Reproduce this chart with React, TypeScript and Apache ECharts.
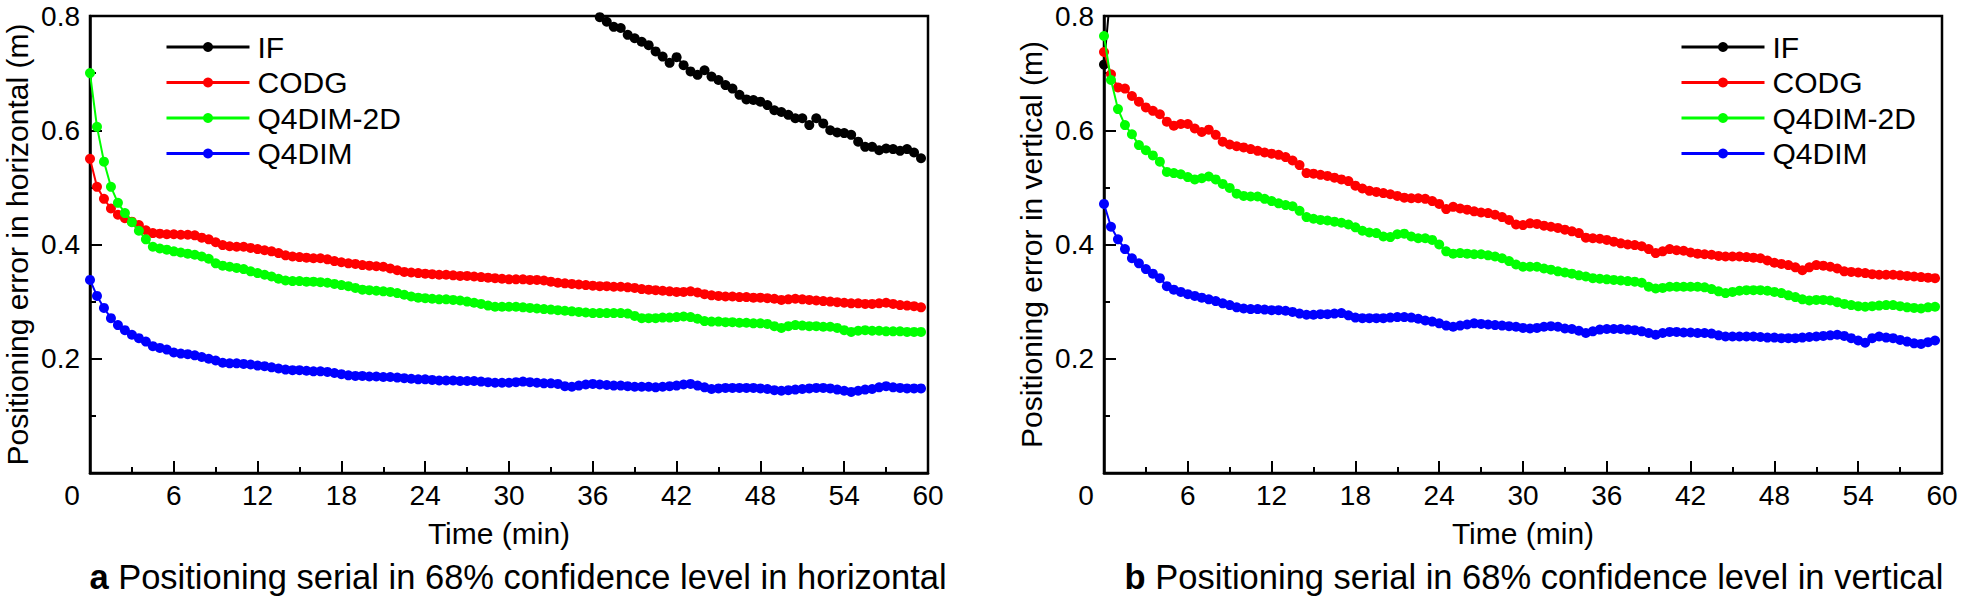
import React, { useEffect, useRef } from 'react';
import * as echarts from 'echarts';

const FONT = 'Arial, "Liberation Sans", Helvetica, sans-serif';

const TIME = [
  0, 0.5, 1, 1.5, 2, 2.5, 3, 3.5, 4, 4.5,
  5, 5.5, 6, 6.5, 7, 7.5, 8, 8.5, 9, 9.5,
  10, 10.5, 11, 11.5, 12, 12.5, 13, 13.5, 14, 14.5,
  15, 15.5, 16, 16.5, 17, 17.5, 18, 18.5, 19, 19.5,
  20, 20.5, 21, 21.5, 22, 22.5, 23, 23.5, 24, 24.5,
  25, 25.5, 26, 26.5, 27, 27.5, 28, 28.5, 29, 29.5,
  30, 30.5, 31, 31.5, 32, 32.5, 33, 33.5, 34, 34.5,
  35, 35.5, 36, 36.5, 37, 37.5, 38, 38.5, 39, 39.5,
  40, 40.5, 41, 41.5, 42, 42.5, 43, 43.5, 44, 44.5,
  45, 45.5, 46, 46.5, 47, 47.5, 48, 48.5, 49, 49.5,
  50, 50.5, 51, 51.5, 52, 52.5, 53, 53.5, 54, 54.5,
  55, 55.5, 56, 56.5, 57, 57.5, 58, 58.5, 59, 59.5,
];

const SERIES_NAMES = ['IF', 'CODG', 'Q4DIM-2D', 'Q4DIM'];
const SERIES_COLORS = ['#000000', '#ff0000', '#00ff00', '#0000ff'];

// ---- (a) horizontal ----
const H_IF = [
  null, null, null, null, null, null, null, null, null, null,
  null, null, null, null, null, null, null, null, null, null,
  null, null, null, null, null, null, null, null, null, null,
  null, null, null, null, null, null, null, null, null, null,
  null, null, null, null, null, null, null, null, null, null,
  null, null, null, null, null, null, null, null, null, null,
  null, null, null, null, null, null, null, null, null, 0.820,
  0.815, 0.810, 0.805, 0.798, 0.790, 0.781, 0.779, 0.767, 0.761, 0.755,
  0.749, 0.738, 0.729, 0.718, 0.728, 0.714, 0.703, 0.697, 0.705, 0.694,
  0.688, 0.679, 0.673, 0.662, 0.654, 0.653, 0.650, 0.644, 0.635, 0.632,
  0.627, 0.621, 0.621, 0.609, 0.621, 0.612, 0.600, 0.596, 0.595, 0.592,
  0.580, 0.571, 0.571, 0.565, 0.568, 0.567, 0.564, 0.567, 0.561, 0.551,
];
const H_CODG = [
  0.550, 0.501, 0.480, 0.463, 0.452, 0.446, 0.440, 0.434, 0.425, 0.420,
  0.419, 0.418, 0.418, 0.417, 0.417, 0.416, 0.412, 0.409, 0.404, 0.399,
  0.397, 0.396, 0.396, 0.394, 0.392, 0.390, 0.388, 0.385, 0.381, 0.379,
  0.378, 0.377, 0.376, 0.376, 0.374, 0.371, 0.369, 0.367, 0.366, 0.364,
  0.363, 0.362, 0.361, 0.358, 0.355, 0.352, 0.351, 0.350, 0.349, 0.348,
  0.347, 0.347, 0.346, 0.345, 0.345, 0.344, 0.343, 0.342, 0.341, 0.340,
  0.339, 0.339, 0.339, 0.338, 0.338, 0.337, 0.335, 0.333, 0.332, 0.331,
  0.330, 0.329, 0.328, 0.327, 0.327, 0.326, 0.326, 0.325, 0.324, 0.322,
  0.321, 0.320, 0.319, 0.318, 0.317, 0.317, 0.318, 0.316, 0.313, 0.311,
  0.310, 0.309, 0.309, 0.308, 0.308, 0.307, 0.307, 0.306, 0.305, 0.303,
  0.304, 0.305, 0.304, 0.303, 0.302, 0.301, 0.300, 0.299, 0.298, 0.297,
  0.297, 0.296, 0.296, 0.297, 0.298, 0.296, 0.294, 0.293, 0.292, 0.290,
];
const H_Q4DIM2D = [
  0.700, 0.606, 0.545, 0.501, 0.473, 0.455, 0.439, 0.424, 0.409, 0.396,
  0.393, 0.391, 0.388, 0.386, 0.384, 0.382, 0.379, 0.375, 0.367, 0.363,
  0.361, 0.359, 0.357, 0.353, 0.350, 0.347, 0.344, 0.340, 0.337, 0.336,
  0.336, 0.335, 0.335, 0.334, 0.333, 0.331, 0.329, 0.327, 0.324, 0.321,
  0.320, 0.319, 0.318, 0.317, 0.315, 0.312, 0.309, 0.307, 0.306, 0.305,
  0.304, 0.304, 0.303, 0.302, 0.300, 0.298, 0.296, 0.293, 0.291, 0.291,
  0.291, 0.291, 0.290, 0.289, 0.288, 0.287, 0.286, 0.285, 0.284, 0.283,
  0.282, 0.281, 0.280, 0.280, 0.280, 0.280, 0.280, 0.279, 0.275, 0.271,
  0.271, 0.271, 0.272, 0.272, 0.273, 0.274, 0.273, 0.270, 0.266, 0.265,
  0.265, 0.264, 0.264, 0.263, 0.263, 0.262, 0.262, 0.261, 0.257, 0.254,
  0.257, 0.259, 0.258, 0.257, 0.257, 0.256, 0.256, 0.254, 0.250, 0.247,
  0.249, 0.250, 0.249, 0.249, 0.248, 0.248, 0.248, 0.247, 0.247, 0.247,
];
const H_Q4DIM = [
  0.338, 0.310, 0.289, 0.271, 0.259, 0.250, 0.242, 0.236, 0.230, 0.222,
  0.219, 0.216, 0.211, 0.209, 0.208, 0.206, 0.203, 0.200, 0.197, 0.193,
  0.192, 0.192, 0.191, 0.190, 0.188, 0.187, 0.185, 0.183, 0.181, 0.180,
  0.180, 0.179, 0.178, 0.178, 0.177, 0.175, 0.173, 0.171, 0.170, 0.170,
  0.169, 0.169, 0.168, 0.168, 0.167, 0.166, 0.165, 0.164, 0.164, 0.163,
  0.162, 0.162, 0.162, 0.161, 0.161, 0.161, 0.160, 0.159, 0.158, 0.158,
  0.158, 0.159, 0.160, 0.159, 0.158, 0.157, 0.157, 0.156, 0.152, 0.151,
  0.153, 0.155, 0.156, 0.155, 0.154, 0.153, 0.153, 0.152, 0.151, 0.151,
  0.151, 0.150, 0.151, 0.152, 0.153, 0.155, 0.156, 0.153, 0.150, 0.147,
  0.148, 0.149, 0.149, 0.149, 0.149, 0.149, 0.148, 0.147, 0.145, 0.144,
  0.145, 0.146, 0.147, 0.148, 0.149, 0.149, 0.148, 0.146, 0.144, 0.142,
  0.144, 0.146, 0.147, 0.150, 0.152, 0.150, 0.149, 0.148, 0.148, 0.148,
];

// ---- (b) vertical ----
const V_IF = [
  0.715, 0.850, 0.900, null, null, null, null, null, null, null,
  null, null, null, null, null, null, null, null, null, null,
  null, null, null, null, null, null, null, null, null, null,
  null, null, null, null, null, null, null, null, null, null,
  null, null, null, null, null, null, null, null, null, null,
  null, null, null, null, null, null, null, null, null, null,
  null, null, null, null, null, null, null, null, null, null,
  null, null, null, null, null, null, null, null, null, null,
  null, null, null, null, null, null, null, null, null, null,
  null, null, null, null, null, null, null, null, null, null,
  null, null, null, null, null, null, null, null, null, null,
  null, null, null, null, null, null, null, null, null, null,
];
const V_CODG = [
  0.737, 0.698, 0.675, 0.673, 0.660, 0.650, 0.640, 0.634, 0.628, 0.615,
  0.608, 0.611, 0.611, 0.603, 0.597, 0.601, 0.592, 0.580, 0.575, 0.572,
  0.570, 0.567, 0.564, 0.561, 0.559, 0.557, 0.553, 0.547, 0.539, 0.525,
  0.524, 0.522, 0.520, 0.517, 0.514, 0.511, 0.503, 0.498, 0.494, 0.492,
  0.490, 0.488, 0.485, 0.482, 0.481, 0.481, 0.480, 0.476, 0.471, 0.462,
  0.466, 0.463, 0.461, 0.458, 0.456, 0.455, 0.452, 0.448, 0.443, 0.435,
  0.434, 0.437, 0.436, 0.433, 0.431, 0.429, 0.426, 0.423, 0.420, 0.412,
  0.411, 0.410, 0.408, 0.405, 0.402, 0.400, 0.399, 0.397, 0.392, 0.385,
  0.388, 0.392, 0.390, 0.389, 0.386, 0.384, 0.383, 0.382, 0.380, 0.379,
  0.379, 0.379, 0.378, 0.377, 0.376, 0.372, 0.368, 0.366, 0.364, 0.360,
  0.355, 0.360, 0.364, 0.363, 0.361, 0.358, 0.353, 0.352, 0.351, 0.350,
  0.348, 0.347, 0.347, 0.347, 0.346, 0.345, 0.344, 0.343, 0.342, 0.341,
];
const V_Q4DIM2D = [
  0.765, 0.688, 0.637, 0.609, 0.593, 0.574, 0.565, 0.556, 0.545, 0.527,
  0.525, 0.523, 0.518, 0.514, 0.516, 0.519, 0.514, 0.506, 0.499, 0.489,
  0.485, 0.484, 0.484, 0.480, 0.476, 0.472, 0.469, 0.467, 0.459, 0.448,
  0.445, 0.443, 0.442, 0.440, 0.438, 0.435, 0.430, 0.424, 0.421, 0.420,
  0.414, 0.413, 0.418, 0.419, 0.414, 0.411, 0.411, 0.408, 0.400, 0.388,
  0.384, 0.385, 0.384, 0.383, 0.383, 0.381, 0.379, 0.376, 0.371, 0.365,
  0.361, 0.361, 0.361, 0.358, 0.356, 0.353, 0.351, 0.349, 0.346, 0.344,
  0.341, 0.340, 0.339, 0.338, 0.337, 0.336, 0.335, 0.333, 0.326, 0.323,
  0.324, 0.326, 0.326, 0.326, 0.326, 0.326, 0.325, 0.322, 0.318, 0.315,
  0.317, 0.319, 0.320, 0.320, 0.320, 0.319, 0.317, 0.315, 0.311, 0.308,
  0.304, 0.302, 0.303, 0.303, 0.302, 0.299, 0.296, 0.294, 0.292, 0.291,
  0.292, 0.293, 0.294, 0.294, 0.292, 0.290, 0.289, 0.288, 0.290, 0.291,
];
const V_Q4DIM = [
  0.471, 0.431, 0.409, 0.392, 0.376, 0.367, 0.357, 0.349, 0.341, 0.327,
  0.321, 0.317, 0.313, 0.310, 0.307, 0.304, 0.301, 0.297, 0.294, 0.290,
  0.288, 0.287, 0.287, 0.286, 0.285, 0.285, 0.284, 0.282, 0.279, 0.277,
  0.277, 0.278, 0.278, 0.279, 0.280, 0.276, 0.272, 0.271, 0.271, 0.271,
  0.271, 0.272, 0.273, 0.273, 0.272, 0.270, 0.267, 0.265, 0.262, 0.258,
  0.256, 0.258, 0.260, 0.262, 0.261, 0.260, 0.259, 0.258, 0.257, 0.256,
  0.254, 0.253, 0.254, 0.256, 0.257, 0.256, 0.253, 0.252, 0.249, 0.245,
  0.248, 0.251, 0.252, 0.252, 0.252, 0.251, 0.250, 0.248, 0.245, 0.242,
  0.245, 0.247, 0.247, 0.246, 0.246, 0.245, 0.245, 0.244, 0.241, 0.239,
  0.239, 0.239, 0.239, 0.239, 0.238, 0.237, 0.237, 0.236, 0.236, 0.236,
  0.237, 0.238, 0.239, 0.240, 0.241, 0.242, 0.240, 0.236, 0.232, 0.228,
  0.236, 0.239, 0.237, 0.236, 0.233, 0.230, 0.227, 0.226, 0.229, 0.232,
];

const H_SERIES = [H_IF, H_CODG, H_Q4DIM2D, H_Q4DIM];
const V_SERIES = [V_IF, V_CODG, V_Q4DIM2D, V_Q4DIM];

const Y_TITLES = ['Positioning error in horizontal (m)', 'Positioning error in vertical (m)'];
const X_TITLE = 'Time (min)';
const CAPTIONS = [
  ['a', 'Positioning serial in 68% confidence level in horizontal'],
  ['b', 'Positioning serial in 68% confidence level in vertical'],
];

const GRIDS = [
  { left: 90, top: 16, width: 838, height: 457 },
  { left: 1104, top: 16, width: 838, height: 457 },
];

function buildOption() {
  const grid = GRIDS.map((g) => ({
    ...g,
    show: true,
    borderColor: '#000',
    borderWidth: 2.5,
    backgroundColor: 'transparent',
    containLabel: false,
    outerBoundsMode: 'none',
  }));

  const xAxis = GRIDS.map((_, i) => ({
    type: 'value',
    gridIndex: i,
    min: 0,
    max: 60,
    interval: 6,
    name: X_TITLE,
    nameLocation: 'middle',
    nameGap: 45,
    nameTextStyle: {
      fontFamily: FONT,
      fontSize: 30,
      color: '#000',
      padding: i === 0 ? [0, 20, 0, 0] : [0, 0, 0, 0],
    },
    axisLine: { show: true, onZero: false, lineStyle: { color: '#000', width: 2.5 } },
    axisTick: { show: true, inside: true, length: 12, lineStyle: { color: '#000', width: 2 } },
    minorTick: { show: true, splitNumber: 2, length: 6, lineStyle: { color: '#000', width: 2 } },
    splitLine: { show: false },
    minorSplitLine: { show: false },
    axisLabel: {
      fontFamily: FONT,
      fontSize: 28,
      color: '#000',
      margin: 8,
      formatter: (v: number) => (v === 0 ? '{z|0}' : String(v)),
      rich: {
        z: { fontFamily: FONT, fontSize: 28, color: '#000', padding: [0, 36, 0, 0] },
      },
    },
  }));

  const yAxis = GRIDS.map((_, i) => ({
    type: 'value',
    gridIndex: i,
    min: 0,
    max: 0.8,
    interval: 0.2,
    name: Y_TITLES[i],
    nameLocation: 'middle',
    nameGap: 58,
    nameTextStyle: { fontFamily: FONT, fontSize: 30, color: '#000' },
    axisLine: { show: true, onZero: false, lineStyle: { color: '#000', width: 2.5 } },
    axisTick: { show: true, inside: true, length: 12, lineStyle: { color: '#000', width: 2 } },
    minorTick: { show: true, splitNumber: 2, length: 6, lineStyle: { color: '#000', width: 2 } },
    splitLine: { show: false },
    minorSplitLine: { show: false },
    axisLabel: {
      fontFamily: FONT,
      fontSize: 28,
      color: '#000',
      margin: 10,
      formatter: (v: number) => (v === 0 ? '' : v.toFixed(1)),
    },
  }));

  const series: any[] = [];
  [H_SERIES, V_SERIES].forEach((group, gi) => {
    group.forEach((vals, si) => {
      series.push({
        type: 'line',
        name: SERIES_NAMES[si],
        xAxisIndex: gi,
        yAxisIndex: gi,
        data: TIME.map((t, k) => [t, vals[k]]),
        symbol: 'circle',
        symbolSize: 10,
        showSymbol: true,
        connectNulls: false,
        clip: true,
        color: SERIES_COLORS[si],
        itemStyle: { color: SERIES_COLORS[si] },
        lineStyle: { color: SERIES_COLORS[si], width: 2 },
        emphasis: { disabled: true },
        z: 2 + si,
      });
    });
  });

  const legendLefts = [165, 1680];
  const legend = legendLefts.map((l) => ({
    orient: 'vertical',
    left: l,
    top: 32,
    padding: 0,
    itemGap: 5.5,
    itemWidth: 83,
    itemHeight: 12.5,
    data: SERIES_NAMES,
    selectedMode: false,
    lineStyle: { width: 3 },
    textStyle: { fontFamily: FONT, fontSize: 30, color: '#000', padding: [0, 0, 0, 3] },
  }));

  const captionCenters = [518, 1534];
  const graphic = CAPTIONS.map(([letter, text], i) => ({
    type: 'text',
    x: captionCenters[i],
    y: 577,
    style: {
      text: `{b|${letter}} ${text}`,
      rich: { b: { fontFamily: FONT, fontSize: 34.5, fontWeight: 'bold', fill: '#000' } },
      fontFamily: FONT,
      fontSize: 34.5,
      fill: '#000',
      align: 'center',
      verticalAlign: 'middle',
      textAlign: 'center',
      textVerticalAlign: 'middle',
    },
  }));

  return {
    animation: false,
    backgroundColor: '#ffffff',
    textStyle: { fontFamily: FONT },
    grid,
    xAxis,
    yAxis,
    legend,
    series,
    graphic,
  };
}

export default function App() {
  const ref = useRef<HTMLDivElement>(null);
  useEffect(() => {
    if (!ref.current) return;
    const chart = echarts.init(ref.current, undefined, { renderer: 'svg' });
    chart.setOption(buildOption() as any);
    return () => chart.dispose();
  }, []);
  return (
    <div
      ref={ref}
      style={{ position: 'fixed', left: 0, top: 0, width: 1961, height: 603, background: '#fff' }}
    />
  );
}
